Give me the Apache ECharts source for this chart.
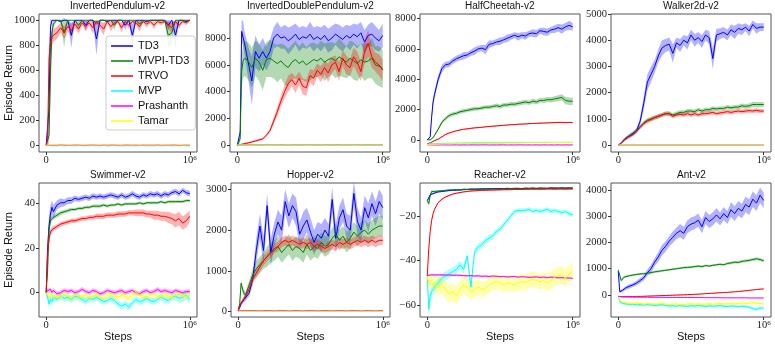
<!DOCTYPE html>
<html><head><meta charset="utf-8">
<script src="https://cdn.jsdelivr.net/npm/echarts@6/dist/echarts.min.js"></script>
<style>html,body{margin:0;padding:0;background:#fff}#c{width:775px;height:347px}</style>
</head><body><div id="c"></div>
<script>
// ---------- shared ----------
const STEPS = [0,10000,20000,30000,40000,50000,75000,100000,125000,150000,175000,
  200000,225000,250000,275000,300000,325000,350000,375000,400000,425000,450000,
  475000,500000,525000,550000,575000,600000,625000,650000,675000,700000,725000,
  750000,775000,800000,825000,850000,875000,900000,925000,950000,975000,1000000];
const METHODS = ['TD3','MVPI-TD3','TRVO','MVP','Prashanth','Tamar'];
const COLORS = ['#0000ff','#008000','#ff0000','#00ffff','#ff00ff','#ffff00'];
const TITLES = ['InvertedPendulum-v2','InvertedDoublePendulum-v2','HalfCheetah-v2','Walker2d-v2',
  'Swimmer-v2','Hopper-v2','Reacher-v2','Ant-v2'];
const X_TICKS = [0, 1000000];
const Y_TICKS_IP = [0,200,400,600,800,1000];
const Y_TICKS_IDP = [0,2000,4000,6000,8000];
const Y_TICKS_HC = [0,2000,4000,6000,8000];
const Y_TICKS_WK = [0,1000,2000,3000,4000,5000];
const Y_TICKS_SW = [0,20,40];
const Y_TICKS_HP = [0,1000,2000,3000];
const Y_TICKS_RE = [-60,-40,-20];
const Y_TICKS_ANT = [0,1000,2000,3000,4000];

// ---------- InvertedPendulum ----------
const ip_td3 = [5,20,300,950,1000,1000,1000,990,1000,1000,880,
  1000,1000,1000,960,1000,1000,850,1000,1000,990,1000,
  1000,1000,1000,960,1000,880,1000,1000,1000,990,1000,
  1000,1000,1000,1000,960,1000,880,1000,1000,990,1000];
const ip_td3_sd = [3,10,150,60,0,0,0,10,0,0,100,
  0,0,0,40,0,0,130,0,0,10,0,
  0,0,0,40,0,90,0,0,0,10,0,
  0,0,0,0,40,0,100,0,0,10,0];
const ip_mvpi = [5,10,80,600,900,970,1000,1000,900,1000,1000,
  1000,960,1000,1000,1000,1000,980,1000,1000,1000,1000,
  960,1000,1000,1000,1000,1000,1000,970,1000,1000,1000,
  1000,1000,1000,1000,880,900,1000,1000,1000,1000,1000];
const ip_mvpi_sd = [3,5,60,200,80,30,0,0,120,0,0,
  0,40,0,0,0,0,20,0,0,0,0,
  40,0,0,0,0,0,0,30,0,0,0,
  0,0,0,0,100,80,0,0,0,0,0];
const ip_trvo = [5,60,700,820,860,880,900,940,900,950,920,
  970,930,980,950,980,940,990,960,930,990,950,
  980,990,940,990,960,990,980,950,990,970,990,
  960,990,980,990,960,940,990,960,990,980,1000];
const ip_trvo_sd = [3,40,150,80,60,50,50,40,50,40,50,
  30,40,20,40,20,50,10,30,50,10,40,
  20,10,40,10,30,10,20,40,10,30,10,
  30,10,20,10,30,40,10,30,10,20,5];
const ip_mvp = [0,0,1,0,0,1,0,0,0,1,0, 0,1,0,0,0,1,0,0,1,0,0, 1,0,0,0,1,0,0,0,1,0,0, 0,1,0,0,1,0,0,0,1,0,0];
const ip_mvp_sd = [1,1,1,1,1,1,1,1,1,1,1, 1,1,1,1,1,1,1,1,1,1,1, 1,1,1,1,1,1,1,1,1,1,1, 1,1,1,1,1,1,1,1,1,1,1];
const ip_prash = [3,5,4,6,3,5,4,6,5,3,4, 6,5,3,4,5,6,4,3,5,4,6, 5,4,3,6,5,4,5,3,6,4,5, 4,6,3,5,4,6,5,3,4,5,4];
const ip_prash_sd = [4,4,4,4,4,4,4,4,4,4,4, 4,4,4,4,4,4,4,4,4,4,4, 4,4,4,4,4,4,4,4,4,4,4, 4,4,4,4,4,4,4,4,4,4,4];
const ip_tamar = [5,6,5,6,6,5,6,5,6,6,5, 6,5,6,6,5,6,5,6,5,6,6, 5,6,5,6,6,5,6,5,6,6,5, 6,5,6,5,6,6,5,6,5,6,6];
const ip_tamar_sd = [2,2,2,2,2,2,2,2,2,2,2, 2,2,2,2,2,2,2,2,2,2,2, 2,2,2,2,2,2,2,2,2,2,2, 2,2,2,2,2,2,2,2,2,2,2];

// ---------- InvertedDoublePendulum ----------
const idp_td3 = [0,100,1000,8500,8400,7600,6200,4800,7000,6500,7000,
  6500,7000,8000,8300,8000,8100,7800,8000,8300,7900,8100,
  8000,8300,7900,8100,7900,8200,7800,8000,8300,8100,7900,
  8200,8000,8300,8100,8400,7700,8200,8300,8000,7800,8200];
const idp_td3_sd = [0,50,300,800,900,900,1200,1800,1200,1000,1000,
  900,900,800,900,800,900,1000,900,800,900,800,
  800,900,900,800,900,800,900,900,800,900,900,
  800,900,800,900,800,900,800,900,900,800,900];
const idp_mvpi = [0,100,500,5500,6300,6500,6300,5800,6500,6200,5600,
  6400,6500,6300,6100,6300,6000,5800,6200,6400,6100,6300,
  6000,6200,6400,6300,6500,6200,6400,6500,6300,6600,6400,
  6200,6500,6300,6100,6400,6200,6300,6500,6000,5900,5700];
const idp_mvpi_sd = [0,50,300,1200,1300,1300,1400,1500,1300,1400,1500,
  1300,1400,1300,1400,1300,1500,1400,1300,1400,1300,1400,
  1300,1400,1300,1200,1300,1400,1300,1200,1300,1400,1300,
  1200,1300,1400,1300,1200,1400,1300,1500,1400,1500,1400];
const idp_trvo = [0,20,50,80,100,130,180,250,320,400,480,
  750,1100,1800,2500,3300,4000,4600,4900,4500,5000,4400,
  4300,5200,5000,5600,5300,5800,5400,6000,6200,5500,6500,
  6000,5800,6600,6200,5500,7000,7600,6600,6200,6000,5600];
const idp_trvo_sd = [0,20,30,40,50,50,60,60,70,80,90,
  100,150,250,350,400,500,600,500,600,500,600,
  600,500,600,500,600,500,700,600,500,700,600,
  700,600,700,800,700,900,1000,800,700,800,800];
const idp_mvp = [0,0,0,0,0,0,0,0,0,0,0, 0,0,0,0,0,0,0,0,0,0,0, 0,0,0,0,0,0,0,0,0,0,0, 0,0,0,0,0,0,0,0,0,0,0];
const idp_mvp_sd = [10,10,10,10,10,10,10,10,10,10,10, 10,10,10,10,10,10,10,10,10,10,10, 10,10,10,10,10,10,10,10,10,10,10, 10,10,10,10,10,10,10,10,10,10,10];
const idp_prash = [40,50,40,60,50,40,50,60,40,50,40, 60,50,40,50,60,40,50,40,60,50,40, 50,60,40,50,40,60,50,40,50,60,40, 50,40,60,50,40,50,60,40,50,40,50];
const idp_prash_sd = [30,30,30,30,30,30,30,30,30,30,30, 30,30,30,30,30,30,30,30,30,30,30, 30,30,30,30,30,30,30,30,30,30,30, 30,30,30,30,30,30,30,30,30,30,30];
const idp_tamar = [30,30,35,30,30,35,30,30,35,30,30, 35,30,30,35,30,30,35,30,30,35,30, 30,35,30,30,35,30,30,35,30,30,35, 30,30,35,30,30,35,30,30,35,30,30];
const idp_tamar_sd = [15,15,15,15,15,15,15,15,15,15,15, 15,15,15,15,15,15,15,15,15,15,15, 15,15,15,15,15,15,15,15,15,15,15, 15,15,15,15,15,15,15,15,15,15,15];

// ---------- HalfCheetah ----------
const hc_td3 = [0,0,200,1500,2500,3000,4000,4700,4950,5000,5200,
  5350,5450,5550,5600,5750,5850,6000,6050,5950,6300,6350,
  6450,6500,6600,6700,6800,6900,6800,6900,6850,7000,7050,
  7000,7200,7150,7100,7250,7300,7400,7300,7450,7550,7450];
const hc_td3_sd = [0,20,100,200,250,250,250,250,200,200,200,
  200,200,250,200,200,250,200,200,300,250,200,
  200,250,200,250,200,200,250,200,250,200,250,
  250,200,250,250,200,250,250,300,250,300,250];
const hc_mvpi = [0,0,0,50,150,300,700,1150,1400,1600,1700,
  1750,1850,1900,1950,2000,2050,2050,2100,2150,2150,2200,
  2250,2200,2300,2300,2350,2350,2400,2450,2500,2450,2550,
  2500,2600,2600,2650,2650,2700,2750,2800,2600,2550,2550];
const hc_mvpi_sd = [0,0,10,30,50,80,100,120,120,120,120,
  120,130,130,120,130,130,120,130,130,130,130,
  140,140,130,140,140,150,140,150,150,150,160,
  160,160,170,170,180,180,200,200,250,250,250];
const hc_trvo = [-250,-230,-200,-150,-100,-50,50,200,350,450,530,
  600,650,700,730,760,790,810,830,860,880,900,
  920,940,960,980,1000,1010,1030,1040,1050,1070,1080,
  1090,1100,1110,1120,1130,1140,1150,1150,1140,1150,1140];
const hc_trvo_sd = [20,20,30,30,40,40,40,40,40,40,40, 40,40,40,40,40,40,40,40,40,40,40, 40,40,40,40,40,40,40,40,40,40,40, 40,40,40,40,40,40,40,40,40,40,40];
const hc_mvp = [-280,-270,-260,-270,-260,-250,-250,-240,-240,-230,-230,
  -220,-220,-210,-210,-210,-200,-200,-200,-200,-190,-190,
  -190,-190,-190,-180,-180,-180,-180,-180,-180,-170,-170,
  -170,-170,-170,-170,-170,-170,-170,-170,-170,-170,-170];
const hc_mvp_sd = [40,40,40,40,40,40,40,40,40,40,40, 40,40,40,40,40,40,40,40,40,40,40, 40,40,40,40,40,40,40,40,40,40,40, 40,40,40,40,40,40,40,40,40,40,40];
const hc_prash = [-320,-330,-330,-340,-330,-330,-340,-330,-330,-340,-330,
  -330,-340,-330,-340,-330,-330,-340,-330,-330,-340,-330,
  -340,-330,-330,-340,-330,-340,-330,-330,-340,-330,-340,
  -330,-340,-330,-340,-330,-340,-330,-340,-330,-340,-330];
const hc_prash_sd = [20,20,20,20,20,20,20,20,20,20,20, 20,20,20,20,20,20,20,20,20,20,20, 20,20,20,20,20,20,20,20,20,20,20, 20,20,20,20,20,20,20,20,20,20,20];
const hc_tamar = [-300,-310,-300,-290,-290,-280,-280,-270,-260,-260,-250,
  -250,-240,-240,-230,-230,-230,-220,-220,-220,-210,-210,
  -210,-210,-200,-200,-200,-200,-200,-190,-190,-190,-190,
  -190,-190,-190,-190,-180,-180,-180,-180,-180,-180,-180];
const hc_tamar_sd = [40,40,40,40,40,40,40,40,40,40,40, 40,40,40,40,40,40,40,40,40,40,40, 40,40,40,40,40,40,40,40,40,40,40, 40,40,40,40,40,40,40,40,40,40,40];

// ---------- Walker2d ----------
const wk_td3 = [0,30,80,150,200,250,350,450,550,900,1600,
  2400,2700,3000,3400,3700,3800,3850,3500,3900,3800,4000,
  3900,4200,4000,4100,3950,4200,4100,3300,4200,4250,4300,
  4200,4400,4300,4450,4400,4500,4350,4600,4450,4500,4500];
const wk_td3_sd = [0,20,40,60,60,60,80,80,100,150,250,
  300,300,250,250,300,250,250,350,200,250,200,
  250,200,250,200,250,200,250,400,250,200,200,
  200,200,250,200,200,150,200,150,200,150,150];
const wk_mvpi = [0,30,80,150,200,250,350,420,550,700,850,
  950,1000,1050,1100,1150,1200,1200,1150,1200,1250,1250,
  1300,1300,1280,1350,1300,1350,1350,1400,1380,1400,1400,
  1450,1420,1450,1450,1500,1480,1500,1550,1550,1550,1550];
const wk_mvpi_sd = [0,20,30,40,50,50,60,60,70,70,70, 80,80,80,80,80,80,80,80,80,80,80, 80,80,80,80,80,80,80,80,80,80,80, 80,80,80,90,90,90,90,100,100,100,100];
const wk_trvo = [0,30,80,150,200,250,330,400,520,680,820,
  920,980,1050,1100,1150,1200,1200,1100,1150,1180,1150,
  1200,1150,1200,1150,1200,1200,1220,1250,1200,1230,1250,
  1280,1250,1280,1300,1280,1300,1320,1300,1330,1300,1300];
const wk_trvo_sd = [0,20,30,40,50,50,60,60,70,70,80, 80,80,80,80,80,80,80,80,80,80,80, 80,80,80,80,80,80,80,80,80,80,80, 80,80,80,80,80,80,80,80,80,80,80];
const wk_mvp = [2,3,4,3,5,4,3,5,4,6,5, 4,3,5,4,6,5,4,3,5,4,6, 5,4,3,5,4,6,5,4,3,5,4, 6,5,4,3,5,4,6,5,4,3,5];
const wk_mvp_sd = [5,5,5,5,5,5,5,5,5,5,5, 5,5,5,5,5,5,5,5,5,5,5, 5,5,5,5,5,5,5,5,5,5,5, 5,5,5,5,5,5,5,5,5,5,5];
const wk_prash = [0,1,0,1,0,1,0,1,0,1,0, 1,0,1,0,1,0,1,0,1,0,1, 0,1,0,1,0,1,0,1,0,1,0, 1,0,1,0,1,0,1,0,1,0,1];
const wk_prash_sd = [3,3,3,3,3,3,3,3,3,3,3, 3,3,3,3,3,3,3,3,3,3,3, 3,3,3,3,3,3,3,3,3,3,3, 3,3,3,3,3,3,3,3,3,3,3];
const wk_tamar = [2,2,3,2,2,3,2,2,3,2,2, 3,2,2,3,2,2,3,2,2,3,2, 2,3,2,2,3,2,2,3,2,2,3, 2,2,3,2,2,3,2,2,3,2,2];
const wk_tamar_sd = [6,6,6,6,6,6,6,6,6,6,6, 6,6,6,6,6,6,6,6,6,6,6, 6,6,6,6,6,6,6,6,6,6,6, 6,6,6,6,6,6,6,6,6,6,6];

// ---------- Swimmer ----------
const sw_td3 = [0,20,30,35,38,36,39,40,40,41,41,
  42,41.5,42,42.5,42,43,42.5,43,42.5,43,43.5,
  43,42.5,43.5,42.5,43,44,43,42.5,43.5,43,44,
  43.5,44,43,44,43.5,44.5,45,44,45.5,44.5,44];
const sw_td3_sd = [0,3,4,4,3,3,2,2,1.5,1.5,1.5,
  1.2,1.2,1.2,1.2,1.2,1.2,1.2,1.2,1.2,1.2,1.2,
  1.2,1.2,1.2,1.2,1.2,1.2,1.2,1.2,1.2,1.2,1.2,
  1.2,1.2,1.2,1.2,1.2,1.2,1.2,1.2,1.2,1.2,1.2];
const sw_mvpi = [0,10,28,32,33,33.5,34.5,35.5,36,36.5,37,
  37,37.5,37.5,38,38,38.5,38.5,38.5,39,38.5,39,
  39,39.5,39,39.5,39.5,39.5,39.5,40,39.5,40,40,
  40,40,40.5,40,40.5,40.5,40.5,40.5,40.5,41,41];
const sw_mvpi_sd = [0,2,2,1.5,1.2,1,1,1,0.8,0.8,0.8, 0.7,0.7,0.7,0.7,0.7,0.7,0.7,0.7,0.7,0.7,0.7, 0.6,0.6,0.6,0.6,0.6,0.6,0.6,0.6,0.6,0.6,0.6, 0.6,0.6,0.6,0.6,0.6,0.6,0.6,0.6,0.6,0.6,0.6];
const sw_trvo = [0,18,24,27,28,28.5,29.5,30.5,31,31.5,32,
  32,32.5,33,33,33.5,33.5,34,34,34,34.5,34.5,
  34.5,35,35,35,35.5,35.5,35.5,35.5,35.5,35,35,
  34.5,34.5,34,34,33.5,33,32,33,31,32,34];
const sw_trvo_sd = [0,2,2,1.5,1.2,1.2,1,1,1,1,1, 1,1,1,1,1,1,1.2,1.2,1.2,1.2,1.2, 1.2,1.2,1.2,1.2,1.2,1.2,1.5,1.5,1.5,1.5,1.5, 2,2,2,2,2.5,2.5,3,3,3,3,2.5];
const sw_mvp = [0,-2,-5,-3,-4,-2,-3,-1.5,-2.5,-2,-3,
  -1.5,-2,-3,-4,-2.5,-3,-2,-3,-4,-3.5,-2.5,
  -3.5,-5,-6,-5,-6.5,-4.5,-3,-4,-3.5,-2.5,-3.5,
  -4,-3,-2,-3,-3.5,-2,-1.5,-2.5,-2,-1,-3];
const sw_mvp_sd = [1,2,2.5,2,2,1.5,1.5,1.5,1.5,1.5,1.5, 1.5,1.5,1.5,1.5,1.5,1.5,1.5,1.5,1.5,1.5,1.5, 1.5,1.5,1.5,1.5,1.5,1.5,1.5,1.5,1.5,1.5,1.5, 1.5,1.5,1.5,1.5,1.5,1.5,2,2,2,2,2];
const sw_prash = [0,1,0.5,1.5,0,1,-0.5,0,1,0.5,1,
  0,0.5,1.5,0.5,0,1,0.5,-0.5,0,1,0.5,
  0,0.5,1,0,0.5,1,0,-0.5,0.5,1,0,
  0.5,1.5,0.5,1,0.5,0,1,0.5,0,0.5,0.5];
const sw_prash_sd = [1,1,1,1,1,1,1,1,1,1,1, 1,1,1,1,1,1,1,1,1,1,1, 1,1,1,1,1,1,1,1,1,1,1, 1,1,1,1,1,1,1,1,1,1,1];
const sw_tamar = [0,-1,-2,-1,0,-2,-1.5,-2,-1,-1.5,-2.5,
  -1,-1.5,-2,-1,-2.5,-1.5,-1,-2,-2.5,-1,-0.5,
  -1.5,-2,-1,-1.5,-2.5,-1,0,-1,-1.5,-2,-1,
  -0.5,-1.5,-2,-1,-1.5,-2,-1,-0.5,-1.5,-1.5,-1];
const sw_tamar_sd = [1.5,1.5,1.5,1.5,1.5,1.5,1.5,1.5,1.5,1.5,1.5, 1.5,1.5,1.5,1.5,1.5,1.5,1.5,1.5,1.5,1.5,1.5, 1.5,1.5,1.5,1.5,1.5,1.5,1.5,1.5,1.5,1.5,1.5, 1.5,1.5,1.5,1.5,1.5,1.5,1.5,1.5,1.5,1.5,1.5];

// ---------- Hopper ----------
const hp_td3 = [30,100,200,250,300,320,450,800,1500,2100,1500,
  2600,1450,1900,2200,2000,2700,2350,2600,2450,1900,2100,
  2250,1950,1700,1900,1800,2000,1850,2750,1800,2300,2500,
  2100,2000,2900,2200,2000,2550,2300,2650,2400,2700,2550];
const hp_td3_sd = [10,30,50,50,60,60,80,150,300,300,350,
  300,350,300,300,350,300,300,300,350,300,350,
  300,350,300,300,350,300,300,300,350,300,300,
  300,350,300,350,300,300,350,300,300,300,300];
const hp_mvpi = [30,200,700,550,450,400,650,900,1050,1150,1250,
  1350,1450,1500,1600,1450,1550,1650,1500,1600,1550,1450,
  1650,1500,1600,1550,1700,1600,1650,1800,1900,1750,1850,
  1700,1800,1950,1850,1950,2000,1900,2000,2050,2100,2100];
const hp_mvpi_sd = [10,50,80,80,80,80,100,150,200,200,200, 250,250,250,250,250,250,250,250,250,250,250, 250,250,250,250,250,250,250,250,250,250,250, 250,250,250,250,250,250,250,250,250,250,250];
const hp_trvo = [30,150,220,270,320,380,550,800,950,1100,1250,
  1350,1450,1550,1600,1700,1750,1700,1750,1700,1650,1700,
  1650,1700,1600,1650,1600,1550,1600,1650,1600,1700,1650,
  1700,1650,1700,1750,1700,1750,1700,1750,1700,1750,1750];
const hp_trvo_sd = [10,40,50,60,60,70,80,100,120,120,120, 120,120,120,120,120,120,120,120,120,120,120, 120,120,120,120,120,120,120,120,120,120,120, 120,120,120,120,120,120,120,120,120,120,120];
const hp_mvp = [5,5,4,5,5,4,5,5,4,5,5, 4,5,5,4,5,5,4,5,5,4,5, 5,4,5,5,4,5,5,4,5,5,4, 5,5,4,5,5,4,5,5,4,5,5];
const hp_mvp_sd = [5,5,5,5,5,5,5,5,5,5,5, 5,5,5,5,5,5,5,5,5,5,5, 5,5,5,5,5,5,5,5,5,5,5, 5,5,5,5,5,5,5,5,5,5,5];
const hp_prash = [25,20,25,30,25,20,25,30,25,20,25, 30,25,20,25,30,25,20,25,30,25,20, 25,30,25,20,25,30,25,20,25,30,25, 20,25,30,25,20,25,30,25,20,25,30];
const hp_prash_sd = [8,8,8,8,8,8,8,8,8,8,8, 8,8,8,8,8,8,8,8,8,8,8, 8,8,8,8,8,8,8,8,8,8,8, 8,8,8,8,8,8,8,8,8,8,8];
const hp_tamar = [10,12,10,12,10,12,10,12,10,12,10, 12,10,12,10,12,10,12,10,12,10,12, 10,12,10,12,10,12,10,12,10,12,10, 12,10,12,10,12,10,12,10,12,10,12];
const hp_tamar_sd = [6,6,6,6,6,6,6,6,6,6,6, 6,6,6,6,6,6,6,6,6,6,6, 6,6,6,6,6,6,6,6,6,6,6, 6,6,6,6,6,6,6,6,6,6,6];

// ---------- Reacher ----------
const re_td3 = [-13,-12,-10.5,-10,-10,-9.5,-9.2,-9,-8.8,-8.6,-8.5,
  -8.4,-8.3,-8.2,-8.1,-8,-8,-7.9,-7.9,-7.8,-7.8,-7.8,
  -7.7,-7.7,-7.8,-7.6,-7.7,-7.6,-7.6,-7.7,-7.5,-7.6,-7.5,
  -7.6,-7.5,-7.5,-7.6,-7.4,-7.5,-7.5,-7.4,-7.5,-7.4,-7.5];
const re_td3_sd = [0.5,0.8,0.6,0.4,0.4,0.3,0.3,0.3,0.3,0.3,0.3, 0.3,0.3,0.3,0.3,0.3,0.3,0.3,0.3,0.3,0.3,0.3, 0.3,0.3,0.3,0.3,0.3,0.3,0.3,0.3,0.3,0.3,0.3, 0.3,0.3,0.3,0.3,0.3,0.3,0.3,0.3,0.3,0.3,0.3];
const re_mvpi = [-13,-14.5,-11,-9,-9,-9,-8.8,-8.7,-8.5,-8.3,-8.3,
  -8.2,-8.3,-8,-8.1,-8,-8,-8.1,-7.9,-8,-8,-7.8,
  -8,-7.9,-7.8,-7.9,-7.7,-7.8,-7.8,-7.7,-7.8,-7.7,-7.6,
  -7.7,-7.6,-7.7,-7.6,-7.6,-7.5,-7.6,-7.5,-7.6,-7.5,-7.5];
const re_mvpi_sd = [0.5,1,0.8,0.5,0.4,0.4,0.3,0.3,0.3,0.3,0.3, 0.3,0.3,0.3,0.3,0.3,0.3,0.3,0.3,0.3,0.3,0.3, 0.3,0.3,0.3,0.3,0.3,0.3,0.3,0.3,0.3,0.3,0.3, 0.3,0.3,0.3,0.3,0.3,0.3,0.3,0.3,0.3,0.3,0.3];
const re_trvo = [-47,-35,-27,-22,-19,-17,-14,-12.5,-11.5,-10.8,-10.2,
  -9.8,-9.5,-9.2,-9,-8.8,-8.7,-8.6,-8.5,-8.5,-8.4,-8.4,
  -8.3,-8.3,-8.2,-8.2,-8.2,-8.1,-8.1,-8.1,-8,-8,-8,
  -8,-8,-8,-7.9,-7.9,-8,-7.9,-7.9,-8,-7.9,-7.9];
const re_trvo_sd = [0.5,1,0.8,0.6,0.5,0.4,0.3,0.3,0.3,0.3,0.3, 0.3,0.3,0.3,0.3,0.3,0.3,0.3,0.3,0.3,0.3,0.3, 0.3,0.3,0.3,0.3,0.3,0.3,0.3,0.3,0.3,0.3,0.3, 0.3,0.3,0.3,0.3,0.3,0.3,0.3,0.3,0.3,0.3,0.3];
const re_mvp = [-47,-62,-56,-54,-53,-52,-50,-48,-47,-46,-45,
  -44,-42,-44,-38,-52,-36,-34,-33,-31,-30,-29,
  -27,-26,-24,-22,-20,-18,-17.5,-17.5,-17.5,-17,-18,
  -17.5,-18,-17.5,-17,-18,-17.5,-18,-18.5,-18,-19,-19.5];
const re_mvp_sd = [1,3,3,2.5,2,2,2,2,2,2,2, 2,2,2,2,2,1.5,1.5,1.5,1.5,1.5,1.5, 1.2,1.2,1.2,1.2,1.2,1,1,1,1,1,1, 1,1,1,1,1,1,1,1,1,1,1];
const re_prash = [-47,-46.5,-46.5,-46.5,-46.5,-46.5,-46.5,-46.5,-46.6,-46.5,-46.7,
  -46.6,-46.7,-46.8,-46.9,-46.8,-47,-46.9,-47.1,-47,-47.2,-47,
  -47.1,-47.3,-47.2,-47.4,-47.3,-47.2,-47.5,-47.3,-47.4,-47.6,-47.5,
  -47.4,-47.6,-47.5,-47.7,-47.5,-47.6,-47.8,-47.7,-47.8,-47.9,-48];
const re_prash_sd = [0.4,0.4,0.4,0.4,0.4,0.4,0.4,0.4,0.4,0.4,0.4, 0.4,0.4,0.4,0.4,0.4,0.4,0.4,0.4,0.4,0.4,0.4, 0.4,0.4,0.4,0.4,0.4,0.4,0.4,0.4,0.4,0.4,0.4, 0.4,0.4,0.4,0.4,0.4,0.4,0.4,0.4,0.4,0.4,0.4];
const re_tamar = [-47,-50,-49,-50,-51,-50,-52,-51,-53,-55,-54,
  -56,-53,-51,-52,-54,-53,-52,-53,-52.5,-51,-50,
  -49.5,-50,-51,-50,-50.5,-51,-50,-49.5,-50,-49,-48.5,
  -49,-49.5,-49,-50,-49,-47.5,-47,-46.5,-48,-46,-45];
const re_tamar_sd = [1,3,3,3.5,3.5,3.5,4,4,4,4,4, 4,4,4,4,4,4,3.5,3.5,3.5,3.5,3.5, 3.5,3.5,3.5,3.5,3.5,3.5,3.5,3.5,3.5,3.5,3.5, 3.5,3.5,3.5,4,4,4,4,4,4,4,4];

// ---------- Ant ----------
const ant_td3 = [900,120,150,180,220,260,330,380,450,550,650,
  850,1000,1250,1450,1700,1850,2050,2200,2350,2450,2350,
  2600,2700,2750,2850,2600,2950,2800,2900,3050,2900,3100,
  2950,3250,3100,3300,3200,3450,3350,3650,3500,3800,3600];
const ant_td3_sd = [50,50,60,60,60,70,80,80,90,100,100,
  120,150,150,180,200,200,200,220,220,250,250,
  250,250,250,250,250,250,250,250,250,250,250,
  250,280,280,280,280,300,300,300,300,300,300];
const ant_mvpi = [950,750,550,620,680,700,730,760,780,800,810,
  830,850,880,900,920,940,960,980,1000,1020,1040,
  1050,1060,1080,1100,1080,1120,1100,1130,1150,1170,1150,
  1200,1220,1250,1240,1280,1300,1320,1350,1380,1350,1300];
const ant_mvpi_sd = [40,60,60,50,40,40,40,40,40,40,40, 40,40,40,40,40,40,40,40,40,40,40, 40,40,40,40,40,40,40,40,40,40,40, 50,50,50,50,50,50,50,60,60,60,60];
const ant_trvo = [-50,-60,-65,-65,-65,-65,-60,-60,-55,-55,-50,
  -45,-40,-35,-30,-25,-20,-15,-10,-5,0,5,
  10,20,25,30,40,50,60,65,75,85,95,
  100,110,120,130,145,160,175,190,205,220,230];
const ant_trvo_sd = [15,15,15,15,15,15,15,15,15,15,15, 15,15,15,15,15,15,15,15,15,15,15, 15,15,15,15,15,15,15,15,15,15,15, 15,15,15,15,15,15,15,15,15,15,15];
const ant_mvp = [-100,-250,-300,-320,-350,-340,-360,-350,-380,-370,-390,
  -360,-380,-400,-390,-370,-400,-420,-410,-430,-400,-420,
  -440,-410,-430,-400,-420,-440,-410,-430,-420,-400,-430,
  -440,-420,-430,-450,-430,-440,-470,-520,-550,-500,-500];
const ant_mvp_sd = [20,50,50,50,50,50,50,50,50,50,50, 50,50,50,50,50,50,50,50,50,50,50, 50,50,50,50,50,50,50,50,50,50,50, 50,50,50,50,50,60,60,60,60,60,60];
const ant_prash = [-60,-70,-70,-75,-75,-80,-80,-80,-85,-85,-85,
  -85,-90,-90,-90,-90,-95,-95,-95,-95,-95,-100,
  -100,-100,-100,-100,-100,-105,-105,-105,-105,-105,-110,
  -110,-110,-110,-110,-110,-110,-115,-115,-115,-115,-115];
const ant_prash_sd = [10,10,10,10,10,10,10,10,10,10,10, 10,10,10,10,10,10,10,10,10,10,10, 10,10,10,10,10,10,10,10,10,10,10, 10,10,10,10,10,10,10,10,10,10,10];
const ant_tamar = [-100,-200,-250,-280,-300,-300,-320,-330,-300,-320,-350,
  -330,-340,-360,-340,-320,-360,-370,-350,-340,-380,-360,
  -350,-330,-360,-340,-370,-350,-330,-360,-340,-320,-350,
  -330,-310,-340,-320,-300,-330,-310,-290,-320,-330,-340];
const ant_tamar_sd = [20,50,50,50,50,50,50,50,50,50,50, 50,50,50,50,50,50,50,50,50,50,50, 50,50,50,50,50,50,50,50,50,50,50, 50,50,50,50,50,50,50,50,50,50,50];

const PANELS = [
  {title: TITLES[0], ticks: Y_TICKS_IP, mean: [ip_td3, ip_mvpi, ip_trvo, ip_mvp, ip_prash, ip_tamar], sd: [ip_td3_sd, ip_mvpi_sd, ip_trvo_sd, ip_mvp_sd, ip_prash_sd, ip_tamar_sd]},
  {title: TITLES[1], ticks: Y_TICKS_IDP, mean: [idp_td3, idp_mvpi, idp_trvo, idp_mvp, idp_prash, idp_tamar], sd: [idp_td3_sd, idp_mvpi_sd, idp_trvo_sd, idp_mvp_sd, idp_prash_sd, idp_tamar_sd]},
  {title: TITLES[2], ticks: Y_TICKS_HC, mean: [hc_td3, hc_mvpi, hc_trvo, hc_mvp, hc_prash, hc_tamar], sd: [hc_td3_sd, hc_mvpi_sd, hc_trvo_sd, hc_mvp_sd, hc_prash_sd, hc_tamar_sd]},
  {title: TITLES[3], ticks: Y_TICKS_WK, mean: [wk_td3, wk_mvpi, wk_trvo, wk_mvp, wk_prash, wk_tamar], sd: [wk_td3_sd, wk_mvpi_sd, wk_trvo_sd, wk_mvp_sd, wk_prash_sd, wk_tamar_sd]},
  {title: TITLES[4], ticks: Y_TICKS_SW, mean: [sw_td3, sw_mvpi, sw_trvo, sw_mvp, sw_prash, sw_tamar], sd: [sw_td3_sd, sw_mvpi_sd, sw_trvo_sd, sw_mvp_sd, sw_prash_sd, sw_tamar_sd]},
  {title: TITLES[5], ticks: Y_TICKS_HP, mean: [hp_td3, hp_mvpi, hp_trvo, hp_mvp, hp_prash, hp_tamar], sd: [hp_td3_sd, hp_mvpi_sd, hp_trvo_sd, hp_mvp_sd, hp_prash_sd, hp_tamar_sd]},
  {title: TITLES[6], ticks: Y_TICKS_RE, mean: [re_td3, re_mvpi, re_trvo, re_mvp, re_prash, re_tamar], sd: [re_td3_sd, re_mvpi_sd, re_trvo_sd, re_mvp_sd, re_prash_sd, re_tamar_sd]},
  {title: TITLES[7], ticks: Y_TICKS_ANT, mean: [ant_td3, ant_mvpi, ant_trvo, ant_mvp, ant_prash, ant_tamar], sd: [ant_td3_sd, ant_mvpi_sd, ant_trvo_sd, ant_mvp_sd, ant_prash_sd, ant_tamar_sd]}
];

// layout (pixels) and axis ranges
const LAYOUT = [
  {left: 39,  top: 14,  width: 158, height: 138, yMin: -50,   yMax: 1050},
  {left: 230, top: 14,  width: 160, height: 138, yMin: -500,  yMax: 9800},
  {left: 420, top: 14,  width: 160, height: 138, yMin: -800,  yMax: 8300},
  {left: 611, top: 14,  width: 160, height: 138, yMin: -260,  yMax: 5000},
  {left: 39,  top: 183, width: 158, height: 134, yMin: -10.8, yMax: 48.8},
  {left: 231, top: 183, width: 159, height: 134, yMin: -130,  yMax: 3155},
  {left: 420, top: 183, width: 160, height: 134, yMin: -65.4, yMax: -5.2},
  {left: 611, top: 183, width: 160, height: 134, yMin: -840,  yMax: 4267}
];

PANELS.forEach(p => {
  p.mean.concat(p.sd).forEach(a => { if (a.length !== STEPS.length) throw new Error('length mismatch in ' + p.title + ': ' + a.length); });
});

const TICK_FONT = 'Liberation Serif';
const SANS = 'Liberation Sans, sans-serif';
const TITLE_SIZE = 10;

// measure title widths so each title box is laid out exactly where its text is drawn
const measureCtx = document.createElement('canvas').getContext('2d');
measureCtx.font = TITLE_SIZE + 'px "Liberation Sans", sans-serif';

const grids = [], xAxes = [], yAxes = [], titles = [], series = [];
PANELS.forEach((p, k) => {
  const L = LAYOUT[k];
  grids.push({left: L.left, top: L.top, width: L.width, height: L.height, show: true,
    borderColor: '#555', borderWidth: 1, backgroundColor: 'transparent'});
  const tw = measureCtx.measureText(p.title).width;
  titles.push({text: p.title, left: Math.round(L.left + L.width / 2 - tw / 2), top: L.top - 13, textAlign: 'left', padding: 0,
    textStyle: {fontFamily: SANS, fontSize: TITLE_SIZE, fontWeight: 'normal', color: '#111'}});
  const xAxis = {type: 'value', gridIndex: k, position: 'bottom', min: -50000, max: 1050000,
    axisLine: {show: false, onZero: false}, splitLine: {show: false},
    axisTick: {show: true, length: 3, customValues: X_TICKS, lineStyle: {color: '#333'}},
    axisLabel: {customValues: X_TICKS, showMinLabel: true, showMaxLabel: true, hideOverlap: false,
      fontFamily: TICK_FONT, fontSize: 10.5, color: '#222', margin: 3,
      formatter: v => v === 0 ? '0' : '10{sup|6}',
      rich: {sup: {fontSize: 7, fontFamily: TICK_FONT, verticalAlign: 'top', lineHeight: 8, padding: [0, 0, 6, 0]}}}};
  if (k >= 4) {
    xAxis.name = 'Steps'; xAxis.nameLocation = 'middle'; xAxis.nameGap = 14; xAxis.nameMoveOverlap = false;
    xAxis.nameTextStyle = {fontFamily: SANS, fontSize: 11, color: '#111'};
  }
  xAxes.push(xAxis);
  const yAxis = {type: 'value', gridIndex: k, position: 'left', min: L.yMin, max: L.yMax,
    axisLine: {show: false, onZero: false}, splitLine: {show: false},
    axisTick: {show: true, length: 3, customValues: p.ticks, lineStyle: {color: '#333'}},
    axisLabel: {customValues: p.ticks, showMinLabel: true, showMaxLabel: true, hideOverlap: false,
      fontFamily: TICK_FONT, fontSize: 10.5, color: '#222', margin: 4,
      formatter: v => (v < 0 ? '\u2212' + Math.abs(v) : String(v))}};
  if (k === 0 || k === 4) {
    yAxis.name = 'Episode Return'; yAxis.nameLocation = 'middle'; yAxis.nameGap = 25; yAxis.nameRotate = 90;
    yAxis.nameMoveOverlap = false;
    yAxis.nameTextStyle = {fontFamily: SANS, fontSize: 11, color: '#111'};
  }
  yAxes.push(yAxis);

  p.mean.forEach((mean, m) => {
    const sd = p.sd[m];
    const lo = mean.map((v, i) => v - sd[i]);
    const hi = mean.map((v, i) => v + sd[i]);
    const color = COLORS[m];
    series.push({type: 'custom', xAxisIndex: k, yAxisIndex: k, silent: true, clip: true,
      data: STEPS.map((x, i) => [x, mean[i]]), encode: {x: 0, y: 1},
      renderItem: (params, api) => {
        if (params.dataIndex !== 0) return null;
        const pts = [];
        for (let i = 0; i < STEPS.length; i++) pts.push(api.coord([STEPS[i], hi[i]]));
        for (let i = STEPS.length - 1; i >= 0; i--) pts.push(api.coord([STEPS[i], lo[i]]));
        return {type: 'polygon', shape: {points: pts}, style: {fill: color, opacity: 0.3}};
      }});
    series.push({type: 'line', name: METHODS[m], xAxisIndex: k, yAxisIndex: k,
      data: STEPS.map((x, i) => [x, mean[i]]), showSymbol: false, symbol: 'none',
      lineStyle: {width: 1, color: color}, itemStyle: {color: color}, clip: true});
  });
});

const chart = echarts.init(document.getElementById('c'), null, {renderer: 'canvas'});
chart.setOption({
  animation: false,
  backgroundColor: '#fff',
  title: titles,
  grid: grids, xAxis: xAxes, yAxis: yAxes,
  legend: {data: METHODS, orient: 'vertical', left: 106, top: 36, icon: 'rect', itemWidth: 22, itemHeight: 1.5,
    itemGap: 3, selectedMode: false, padding: [4, 6, 3, 5], borderColor: '#ccc', borderWidth: 1, borderRadius: 3,
    backgroundColor: 'rgba(255,255,255,0.8)',
    textStyle: {fontFamily: SANS, fontSize: 11, color: '#111', lineHeight: 12}},
  series: series
});
</script></body></html>
